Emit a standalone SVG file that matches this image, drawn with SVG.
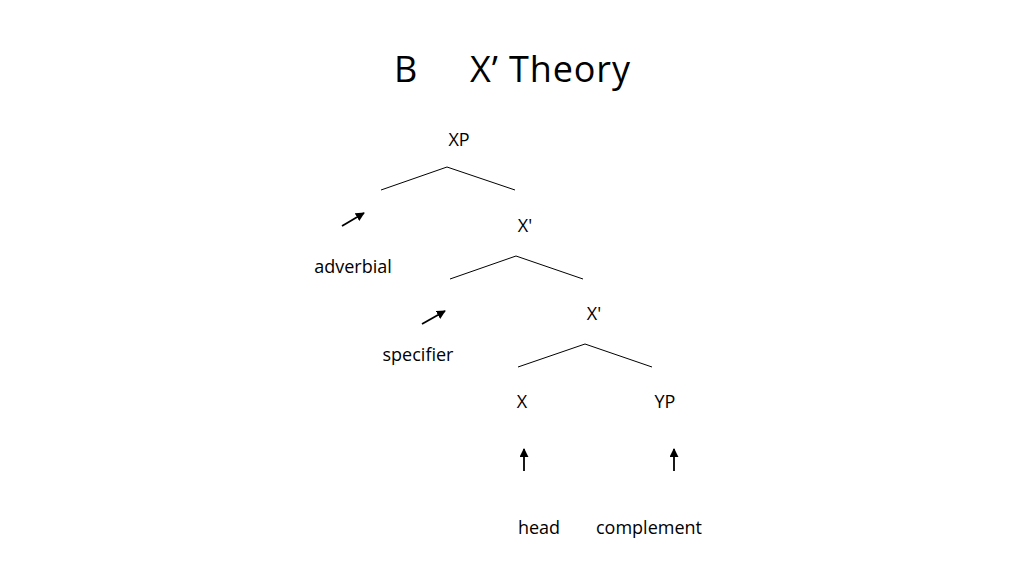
<svg xmlns="http://www.w3.org/2000/svg" width="1024" height="576" viewBox="0 0 1024 576">
<style>
text{font-family:"Open Sans","Liberation Sans",sans-serif;fill:#000}
.t{font-size:36px}
.l{font-size:18px;text-anchor:middle}
.br{fill:none;stroke:#000;stroke-width:1}
.ar{stroke:#000;stroke-width:1.8;marker-end:url(#ah)}
</style>
<defs><marker id="ah" viewBox="0 0 10 10" refX="9" refY="5" markerWidth="5" markerHeight="5" orient="auto"><path d="M0,0L10,5L0,10z"/></marker></defs>
<rect width="1024" height="576" fill="#fff"/>
<text class="t" x="394" y="82">B</text>
<text class="t" x="470" y="82" textLength="160" lengthAdjust="spacing">X’ Theory</text>
<g id="n-xp"><text class="l" x="459" y="146">XP</text></g>
<g id="n-x1"><text class="l" x="525" y="232">X'</text></g>
<g id="n-x2"><text class="l" x="594" y="320">X'</text></g>
<g id="n-x"><text class="l" x="522" y="408">X</text></g>
<g id="n-yp"><text class="l" x="665" y="408">YP</text></g>
<g id="n-adv"><text class="l" x="353" y="273">adverbial</text></g>
<g id="n-spec"><text class="l" x="418" y="361">specifier</text></g>
<g id="n-head"><text class="l" x="539" y="534">head</text></g>
<g id="n-comp"><text class="l" x="649" y="534">complement</text></g>
<g id="connectors">
<path class="br" d="M381,190L447,167L515,190"/>
<path class="br" d="M450,279L516,256L583,279"/>
<path class="br" d="M518,367L585,344L652,367"/>
<line class="ar" x1="342" y1="226" x2="364" y2="213"/>
<line class="ar" x1="422" y1="324" x2="445" y2="311"/>
<line class="ar" x1="524" y1="471" x2="524" y2="449"/>
<line class="ar" x1="674" y1="471" x2="674" y2="449"/>
</g>
</svg>
